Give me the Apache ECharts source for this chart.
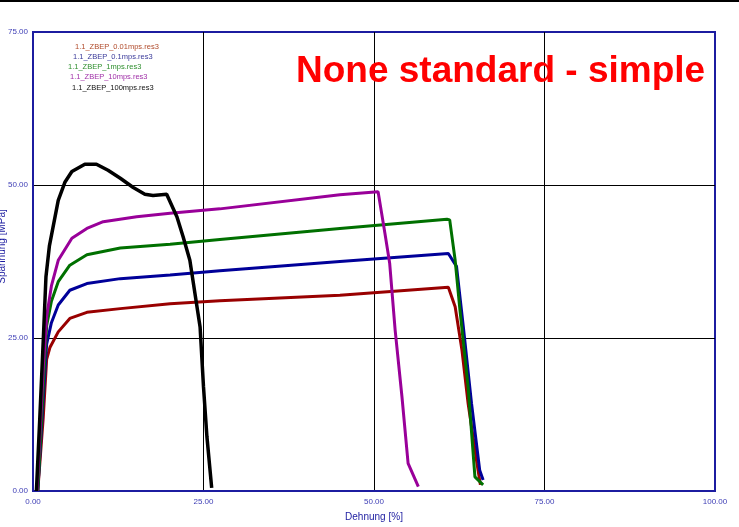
<!DOCTYPE html>
<html>
<head>
<meta charset="utf-8">
<script src="https://cdn.jsdelivr.net/npm/echarts@6/dist/echarts.min.js"></script>
<style>
  html, body { margin: 0; padding: 0; background: #fff; }
  #chart { width: 739px; height: 527px; }
</style>
</head>
<body>
<div id="chart"></div>
<script>
// Stress-strain curves: strain [%] vs. stress [MPa], one curve per test speed
const seriesNames = [
  '1.1_ZBEP_0.01mps.res3',
  '1.1_ZBEP_0.1mps.res3',
  '1.1_ZBEP_1mps.res3',
  '1.1_ZBEP_10mps.res3',
  '1.1_ZBEP_100mps.res3'
];

const curve001 = [
  [0.7, 0], [1.5, 12], [2.0, 21.5], [2.5, 23.5], [3.7, 26.0], [5.4, 28.2], [7.9, 29.2],
  [12.8, 29.8], [20.1, 30.6], [27.4, 31.1], [45.0, 32.0], [60.9, 33.3], [61.9, 30.1],
  [62.9, 23.0], [63.8, 14.3], [65.1, 4.5], [65.6, 1.0]
];
const curve01 = [
  [0.7, 0], [1.5, 15], [2.0, 24], [2.7, 27.5], [3.7, 30.4], [5.4, 32.8], [7.9, 33.9],
  [12.8, 34.7], [20.1, 35.3], [27.4, 36.0], [45.0, 37.5], [60.9, 38.8], [62.1, 36.7],
  [63.1, 26.8], [64.3, 14.3], [65.5, 3.4], [66.0, 1.8]
];
const curve1 = [
  [0.7, 0], [1.5, 17], [2.0, 27], [2.7, 31], [3.7, 34.2], [5.4, 36.9], [7.9, 38.6],
  [12.8, 39.7], [20.1, 40.3], [27.4, 41.1], [45.0, 42.9], [60.7, 44.4], [61.1, 44.3],
  [61.9, 37.7], [62.6, 29.6], [63.8, 17.0], [64.8, 2.3], [66.0, 1.0]
];
const curve10 = [
  [0.6, 0], [1.5, 20], [2.0, 28.5], [2.7, 33.5], [3.7, 37.7], [5.7, 41.3], [7.9, 42.9],
  [10.3, 44.0], [15.2, 44.8], [20.1, 45.4], [27.4, 46.1], [45.0, 48.4], [50.6, 48.9],
  [51.6, 42.1], [52.3, 37.2], [53.1, 26.3], [54.1, 15.4], [55.0, 4.5], [56.5, 0.7]
];
const curve100 = [
  [0.5, 0], [1.0, 12], [1.5, 24.5], [1.9, 35], [2.4, 40], [3.7, 47.5], [4.7, 50.5],
  [5.7, 52.2], [7.6, 53.4], [9.3, 53.4], [11.0, 52.4], [12.8, 51.1], [14.7, 49.6],
  [16.4, 48.5], [17.6, 48.3], [19.6, 48.5], [21.1, 44.8], [22.0, 41.6], [23.0, 37.7],
  [24.5, 26.8], [25.0, 17.0], [25.5, 8.9], [26.2, 0.5]
];

const curveData = [curve001, curve01, curve1, curve10, curve100];
const curveColors = ['#990000', '#000099', '#007000', '#990099', '#000000'];
const legendColors = ['#b04a2a', '#3a3a9a', '#2f8f2f', '#a030a8', '#111111'];
const legendPos = [[70, 43], [68, 53], [63, 63], [65, 73], [67, 84]];

const axisBlue = '#1c1ca0';
const labelBlue = '#3d3db5';
const fontFam = '"Liberation Sans", Arial, sans-serif';

const chart = echarts.init(document.getElementById('chart'), null, { renderer: 'canvas' });

const legends = seriesNames.map((n, i) => ({
  data: [n],
  left: legendPos[i][0],
  top: legendPos[i][1],
  icon: 'none',
  itemWidth: 0,
  itemHeight: 7,
  padding: 0,
  selectedMode: false,
  textStyle: { color: legendColors[i], fontSize: 7.5, fontFamily: fontFam }
}));

const series = seriesNames.map((n, i) => ({
  name: n,
  type: 'line',
  data: curveData[i],
  showSymbol: false,
  symbol: 'none',
  smooth: false,
  animation: false,
  lineStyle: { color: curveColors[i], width: i === 4 ? 3.5 : 3 },
  itemStyle: { color: curveColors[i] }
}));

const axisCommon = {
  type: 'value',
  axisLine: { show: true, lineStyle: { color: axisBlue, width: 2 } },
  axisTick: { show: false },
  splitLine: { show: true, showMinLine: false, showMaxLine: false, lineStyle: { color: '#000', width: 1 } },
  axisLabel: {
    color: labelBlue, fontSize: 8, fontFamily: fontFam,
    formatter: v => v.toFixed(2)
  }
};

chart.setOption({
  animation: false,
  backgroundColor: '#fff',
  title: {
    text: 'None standard - simple',
    left: 296,
    top: 53,
    padding: 0,
    textStyle: { color: '#ff0000', fontSize: 37, fontWeight: 'bold', fontFamily: fontFam }
  },
  legend: legends,
  grid: {
    left: 33, right: 24, top: 32, bottom: 36,
    containLabel: false,
    outerBoundsMode: 'none',
    show: true, borderColor: axisBlue, borderWidth: 2, backgroundColor: 'transparent'
  },
  xAxis: Object.assign({}, axisCommon, {
    min: 0, max: 100, interval: 25,
    name: 'Dehnung [%]',
    nameLocation: 'middle',
    nameGap: 21,
    nameMoveOverlap: false,
    nameTextStyle: { color: axisBlue, fontSize: 10, fontFamily: fontFam },
    axisLabel: Object.assign({}, axisCommon.axisLabel, { margin: 7 })
  }),
  yAxis: Object.assign({}, axisCommon, {
    min: 0, max: 75, interval: 25,
    name: 'Spannung [MPa]',
    nameLocation: 'middle',
    nameGap: 26,
    nameMoveOverlap: false,
    nameTextStyle: { color: axisBlue, fontSize: 10, fontFamily: fontFam, padding: [0, 0, 0, 30] },
    axisLabel: Object.assign({}, axisCommon.axisLabel, { margin: 5 })
  }),
  graphic: [{
    type: 'line',
    shape: { x1: 0, y1: 1, x2: 739, y2: 1 },
    style: { stroke: '#000', lineWidth: 2 },
    silent: true
  }],
  series: series
});
</script>
</body>
</html>
